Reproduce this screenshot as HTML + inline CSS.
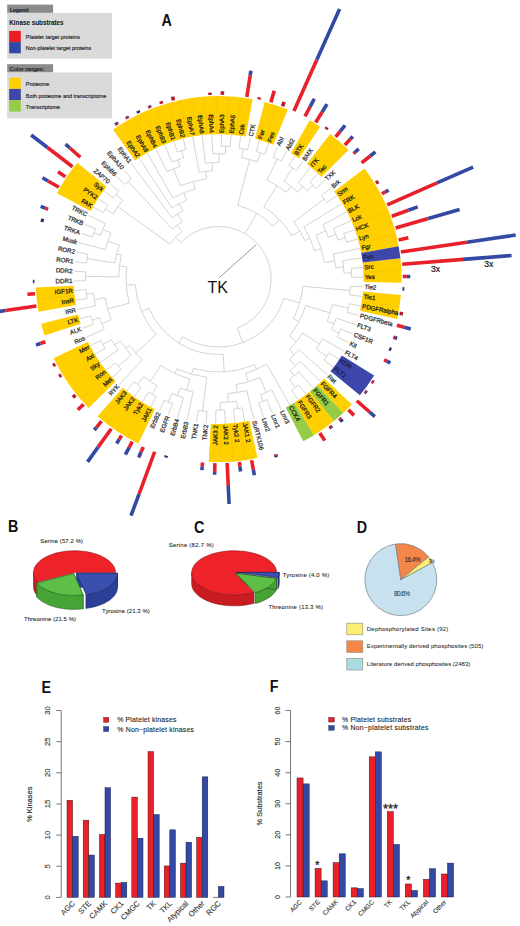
<!DOCTYPE html>
<html><head><meta charset="utf-8"><title>Kinase figure</title>
<style>html,body{margin:0;padding:0;background:#fff;font-family:'Liberation Sans',sans-serif;} body{width:520px;height:926px;overflow:hidden;} svg{display:block;}</style>
</head><body>
<svg width="520" height="926" viewBox="0 0 520 926">
<rect width="520" height="926" fill="#fff"/>
<rect x="7.2" y="4.6" width="45.9" height="8.3" fill="#8b8b8b"/>
<text x="9.8" y="11.6" font-size="5.8" font-weight="bold" fill="#1e1e1e" textLength="19.6" font-family="'Liberation Sans', sans-serif">Legend:</text>
<rect x="7.2" y="12.9" width="104.8" height="45.8" fill="#dadada"/>
<text x="9.3" y="25.4" font-size="6.4" font-weight="bold" fill="#111" textLength="54.3" font-family="'Liberation Sans', sans-serif">Kinase substrates</text>
<rect x="9.2" y="30.9" width="11.6" height="11.2" fill="#ec1c24"/>
<rect x="9.2" y="42.1" width="11.6" height="11.2" fill="#2f4aa6"/>
<text x="25.8" y="39.2" font-size="5.4" fill="#222" stroke="#222" stroke-width="0.15" textLength="54.2" font-family="'Liberation Sans', sans-serif">Platelet target proteins</text>
<text x="25.8" y="50.4" font-size="5.4" fill="#222" stroke="#222" stroke-width="0.15" textLength="65.4" font-family="'Liberation Sans', sans-serif">Non-platelet target proteins</text>
<rect x="7.2" y="64.2" width="45.9" height="8.3" fill="#8b8b8b"/>
<text x="9.5" y="71.1" font-size="5.8" font-weight="bold" fill="#1e1e1e" textLength="35" font-family="'Liberation Sans', sans-serif">Color ranges:</text>
<rect x="7.2" y="72.5" width="104.8" height="45.8" fill="#dadada"/>
<rect x="9.2" y="77.7" width="11.6" height="11.2" fill="#ffcf00"/>
<rect x="9.2" y="88.9" width="11.6" height="11.2" fill="#3d47a9"/>
<rect x="9.2" y="100.1" width="11.6" height="11.5" fill="#95cc45"/>
<text x="25.8" y="86.3" font-size="5.4" fill="#222" stroke="#222" stroke-width="0.15" font-family="'Liberation Sans', sans-serif">Proteome</text>
<text x="25.8" y="97.6" font-size="5.4" fill="#222" stroke="#222" stroke-width="0.15" textLength="80.5" font-family="'Liberation Sans', sans-serif">Both proteome and transcriptome</text>
<text x="25.8" y="109.3" font-size="5.4" fill="#222" stroke="#222" stroke-width="0.15" font-family="'Liberation Sans', sans-serif">Transcriptome</text>
<text x="161.6" y="25.7" font-size="16.3" font-weight="bold" fill="#111" textLength="10.36" lengthAdjust="spacingAndGlyphs" font-family="'Liberation Sans', sans-serif">A</text>
<path d="M103.28,212.73L92.88,206.76M107.97,205.18L97.99,198.52M103.28,212.73A133,133 0 0 1 107.97,205.18M113.21,213.66L105.56,208.92M113.14,197.96L103.63,190.64M118.79,191.09L109.79,183.16M113.14,197.96A133,133 0 0 1 118.79,191.09M122.86,200.20L115.91,194.48M113.21,213.66A124,124 0 0 1 122.86,200.20M169.83,244.05L117.81,206.77M124.89,184.62L116.43,176.11M131.40,178.57L123.53,169.51M124.89,184.62A133,133 0 0 1 131.40,178.57M172.33,229.17L128.09,181.54M172.11,217.62L131.06,163.41M171.92,207.96L138.97,157.82M172.84,198.04L147.25,152.77M167.09,171.73L155.84,148.29M171.77,162.03L164.71,144.39M177.37,152.03L173.82,141.09M185.94,149.56L183.13,138.41M177.37,152.03A133.5,133.5 0 0 1 185.94,149.56M183.71,157.93L181.64,150.72M171.77,162.03A126,126 0 0 1 183.71,157.93M179.96,166.45L177.69,159.83M167.09,171.73A119,119 0 0 1 179.96,166.45M180.35,185.74L173.45,168.90M199.15,172.26L192.60,136.35M205.41,163.25L202.19,134.93M212.76,153.84L211.85,134.16M221.29,146.03L221.54,134.03M230.17,146.50L231.21,134.55M221.29,146.03A133,133 0 0 1 230.17,146.50M225.32,153.88L225.73,146.19M212.76,153.84A125.3,125.3 0 0 1 225.32,153.88M219.01,162.50L219.04,153.70M205.41,163.25A116.5,116.5 0 0 1 219.01,162.50M212.64,170.66L212.20,162.68M199.15,172.26A108.5,108.5 0 0 1 212.64,170.66M206.77,178.90L205.87,171.25M180.35,185.74A100.8,100.8 0 0 1 206.77,178.90M195.29,188.97L193.33,181.42M172.84,198.04A93,93 0 0 1 195.29,188.97M186.76,200.19L183.76,192.77M171.92,207.96A85,85 0 0 1 186.76,200.19M182.86,210.80L179.15,203.71M172.11,217.62A77,77 0 0 1 182.86,210.80M182.17,221.58L177.35,213.98M172.33,229.17A68,68 0 0 1 182.17,221.58M181.96,231.49L177.07,225.15M169.83,244.05A60,60 0 0 1 181.96,231.49M180.83,242.53L175.44,237.32M238.92,148.07L240.83,135.71M247.62,149.72L250.35,137.52M238.92,148.07A132.5,132.5 0 0 1 247.62,149.72M241.60,157.66L243.28,148.82M256.33,151.46L259.73,139.96M264.76,154.27L268.93,143.01M256.33,151.46A133,133 0 0 1 264.76,154.27M257.57,161.81L260.57,152.80M241.60,157.66A123.5,123.5 0 0 1 257.57,161.81M237.71,205.44L249.66,159.47M273.19,157.17L277.90,146.68M281.21,161.09L286.60,150.94M273.19,157.17A133.5,133.5 0 0 1 281.21,161.09M266.91,180.18L277.23,159.07M288.95,165.54L295.00,155.76M296.37,170.49L303.07,161.14M288.95,165.54A133.5,133.5 0 0 1 296.37,170.49M283.82,181.26L292.70,167.95M298.04,182.49L310.75,167.05M309.79,182.19L318.02,173.45M316.06,188.49L324.85,180.33M309.79,182.19A133,133 0 0 1 316.06,188.49M307.30,190.92L312.98,185.29M298.04,182.49A125,125 0 0 1 307.30,190.92M297.72,192.14L302.78,186.59M283.82,181.26A117.5,117.5 0 0 1 297.72,192.14M286.36,192.34L290.98,186.44M266.91,180.18A110,110 0 0 1 286.36,192.34M263.69,206.95L276.95,185.75M321.50,195.52L331.20,187.64M326.84,202.58L337.05,195.37M321.50,195.52A132.5,132.5 0 0 1 326.84,202.58M293.93,221.95L324.23,199.01M303.96,226.91L342.37,203.47M322.76,224.63L347.14,211.90M333.49,228.49L351.34,220.64M343.66,233.72L354.94,229.64M346.40,242.18L357.93,238.85M343.66,233.72A133,133 0 0 1 346.40,242.18M337.97,240.24L345.10,237.93M333.49,228.49A125.5,125.5 0 0 1 337.97,240.24M328.40,237.16L335.87,234.31M322.76,224.63A117.5,117.5 0 0 1 328.40,237.16M316.19,235.12L325.76,230.81M333.43,254.08L360.30,248.25M342.75,260.64L362.04,257.78M351.17,268.37L363.14,267.41M351.59,277.25L363.59,277.09M351.17,268.37A133,133 0 0 1 351.59,277.25M343.96,273.15L351.46,272.80M342.75,260.64A125.5,125.5 0 0 1 343.96,273.15M335.55,267.65L343.51,266.88M333.43,254.08A117.5,117.5 0 0 1 335.55,267.65M324.31,262.46L334.69,260.84M316.19,235.12A107,107 0 0 1 324.31,262.46M314.46,250.51L321.17,248.52M303.96,226.91A100,100 0 0 1 314.46,250.51M304.95,240.60L309.97,238.37M293.93,221.95A94.5,94.5 0 0 1 304.95,240.60M291.80,235.79L299.98,230.96M263.69,206.95A85,85 0 0 1 291.80,235.79M273.03,225.96L279.48,219.68M237.71,205.44A76,76 0 0 1 273.03,225.96M244.97,233.60L256.78,213.28M350.41,286.08L363.39,286.78M349.64,294.87L362.55,296.43M350.41,286.08A132,132 0 0 1 349.64,294.87M302.78,286.35L350.10,290.48M349.27,303.77L361.06,306.01M347.33,312.44L358.94,315.46M349.27,303.77A133,133 0 0 1 347.33,312.44M332.27,304.51L348.37,308.12M336.26,318.13L356.19,324.75M340.79,328.93L352.83,333.84M337.19,336.98L348.87,342.69M340.79,328.93A132,132 0 0 1 337.19,336.98M331.76,329.71L339.06,332.98M336.26,318.13A124,124 0 0 1 331.76,329.71M327.17,321.26L334.16,323.98M332.27,304.51A116.5,116.5 0 0 1 327.17,321.26M305.64,305.54L330.03,312.98M322.64,338.79L344.32,351.24M329.23,352.82L339.21,359.48M324.06,360.04L333.57,367.36M329.23,352.82A133,133 0 0 1 324.06,360.04M316.14,348.90L326.70,356.48M322.64,338.79A120,120 0 0 1 316.14,348.90M302.70,333.11L319.52,343.93M298.90,349.72L327.41,374.84M300.33,361.31L320.77,381.89M299.05,371.65L313.67,388.49M298.90,385.03L306.14,394.59M291.64,390.15L298.23,400.18M298.90,385.03A133,133 0 0 1 291.64,390.15M289.37,379.24L295.31,387.65M299.05,371.65A122.7,122.7 0 0 1 289.37,379.24M290.17,370.29L294.30,375.56M300.33,361.31A116,116 0 0 1 290.17,370.29M289.43,359.20L295.38,365.95M298.90,349.72A107,107 0 0 1 289.43,359.20M289.36,349.67L294.31,354.61M302.70,333.11A100,100 0 0 1 289.36,349.67M289.46,336.09L296.47,341.74M305.64,305.54A91,91 0 0 1 289.46,336.09M293.27,318.55L299.02,321.59M302.78,286.35A84.5,84.5 0 0 1 293.27,318.55M283.82,298.26L299.64,302.93M266.83,364.31L289.95,405.23M271.84,389.88L281.36,409.71M266.92,399.69L272.49,413.61M258.75,402.65L263.38,416.91M266.92,399.69A130,130 0 0 1 258.75,402.65M260.47,394.65L262.86,401.23M271.84,389.88A123,123 0 0 1 260.47,394.65M260.02,377.66L266.22,392.41M246.73,390.51L254.07,419.59M242.09,407.88L244.60,421.65M233.43,409.16L235.01,423.07M242.09,407.88A131,131 0 0 1 233.43,409.16M236.67,401.17L237.77,408.59M224.70,409.86L225.35,423.84M215.95,409.97L215.66,423.97M224.70,409.86A131,131 0 0 1 215.95,409.97M220.23,402.49L220.33,409.99M236.67,401.17A123.5,123.5 0 0 1 220.23,402.49M227.79,393.63L228.47,402.10M246.73,390.51A115,115 0 0 1 227.79,393.63M236.02,384.57L237.33,392.46M260.02,377.66A107,107 0 0 1 236.02,384.57M245.73,373.17L248.23,381.82M266.83,364.31A98,98 0 0 1 245.73,373.17M254.60,364.75L256.54,369.36M207.03,411.50L205.99,423.45M198.21,410.43L196.37,422.29M207.03,411.50A133,133 0 0 1 198.21,410.43M206.70,377.28L202.61,411.04M193.26,391.89L186.85,420.48M183.51,397.62L177.47,418.04M172.44,403.73L168.27,414.99M164.21,400.37L159.30,411.32M172.44,403.73A133,133 0 0 1 164.21,400.37M171.81,393.51L168.30,402.12M183.51,397.62A123.7,123.7 0 0 1 171.81,393.51M180.26,388.16L177.61,395.71M193.26,391.89A115.7,115.7 0 0 1 180.26,388.16M189.93,378.97L186.71,390.22M156.22,396.47L150.60,407.06M148.52,392.04L142.20,402.24M156.22,396.47A133,133 0 0 1 148.52,392.04M157.32,385.65L152.33,394.32M141.12,387.10L134.13,396.86M134.08,381.69L126.45,390.95M141.12,387.10A133,133 0 0 1 134.08,381.69M143.65,376.53L137.56,384.46M157.32,385.65A123,123 0 0 1 143.65,376.53M160.88,365.51L150.33,381.31M189.93,378.97A104,104 0 0 1 160.88,365.51M176.99,368.83L174.88,373.37M206.70,377.28A99,99 0 0 1 176.99,368.83M193.15,368.45L191.51,374.22M254.60,364.75A93,93 0 0 1 193.15,368.45M223.14,354.36L224.19,371.83M142.49,359.80L119.18,384.55M121.14,369.51L112.35,377.67M115.32,362.79L106.00,370.36M121.14,369.51A133,133 0 0 1 115.32,362.79M131.01,355.05L118.17,366.20M118.12,349.94L100.15,362.63M105.07,348.28L94.83,354.53M100.70,340.54L90.06,346.10M105.07,348.28A133,133 0 0 1 100.70,340.54M111.52,339.53L102.82,344.45M118.12,349.94A123,123 0 0 1 111.52,339.53M120.60,341.07L114.69,344.82M131.01,355.05A116,116 0 0 1 120.60,341.07M129.56,345.27L125.54,348.26M142.49,359.80A111,111 0 0 1 129.56,345.27M156.24,334.53L135.70,352.82M104.17,329.31L85.86,337.36M93.54,324.28L82.26,328.36M90.80,315.82L79.27,319.15M93.54,324.28A133,133 0 0 1 90.80,315.82M99.71,317.60L92.10,320.07M104.17,329.31A125,125 0 0 1 99.71,317.60M111.14,319.95L101.79,323.51M95.47,305.72L76.90,309.75M87.03,298.46L75.16,300.22M86.03,289.63L74.06,290.59M87.03,298.46A133,133 0 0 1 86.03,289.63M93.41,293.26L86.45,294.06M95.47,305.72A126,126 0 0 1 93.41,293.26M105.14,297.73L94.28,299.52M111.14,319.95A115,115 0 0 1 105.14,297.73M129.30,303.12L107.58,308.99M85.61,280.75L73.61,280.91M85.79,271.87L73.81,271.22M85.61,280.75A133,133 0 0 1 85.79,271.87M118.62,276.98L85.63,276.31M86.56,263.01L74.65,261.57M87.93,254.23L76.14,251.99M86.56,263.01A133,133 0 0 1 87.93,254.23M114.84,262.90L87.17,258.61M105.36,249.58L78.26,242.54M92.40,237.03L81.01,233.25M95.48,228.70L84.37,224.16M92.40,237.03A133,133 0 0 1 95.48,228.70M100.43,235.27L93.87,232.84M105.40,223.66L88.33,215.31M100.43,235.27A126,126 0 0 1 105.40,223.66M111.05,232.94L102.77,229.40M105.36,249.58A117,117 0 0 1 111.05,232.94M119.24,245.04L107.89,241.15M114.84,262.90A105,105 0 0 1 119.24,245.04M121.51,255.07L116.65,253.87M118.62,276.98A100,100 0 0 1 121.51,255.07M126.89,266.92L119.46,265.94M129.30,303.12A92.5,92.5 0 0 1 126.89,266.92M135.28,284.54L126.30,285.14M156.24,334.53A83.5,83.5 0 0 1 135.28,284.54M148.97,308.19L141.59,311.29M223.14,354.36A75.5,75.5 0 0 1 148.97,308.19M182.66,336.73L178.70,343.10M283.82,298.26A68,68 0 0 1 182.66,336.73M237.26,328.07L242.77,342.56M180.83,242.53A52.5,52.5 0 1 1 237.26,328.07" fill="none" stroke="#cfd0c6" stroke-width="0.9"/>
<g><path d="M134.97,160.55 L113.05,129.50 A183.0,183.0 0 0 1 252.69,99.20 L245.61,136.54 A145.0,145.0 0 0 0 134.97,160.55Z" fill="#ffcf00"/><path d="M255.06,138.66 L264.62,101.88 A183.0,183.0 0 0 1 287.82,109.59 L273.44,144.77 A145.0,145.0 0 0 0 255.06,138.66Z" fill="#ffcf00"/><path d="M290.84,153.28 L309.78,120.33 A183.0,183.0 0 0 1 320.17,126.78 L299.08,158.39 A145.0,145.0 0 0 0 290.84,153.28Z" fill="#ffcf00"/><path d="M306.96,164.03 L330.11,133.90 A183.0,183.0 0 0 1 348.46,150.06 L321.49,176.83 A145.0,145.0 0 0 0 306.96,164.03Z" fill="#ffcf00"/><path d="M334.19,191.46 L364.48,168.52 A183.0,183.0 0 0 1 398.63,246.19 L361.25,253.00 A145.0,145.0 0 0 0 334.19,191.46Z" fill="#ffcf00"/><path d="M362.67,262.59 L400.42,258.29 A183.0,183.0 0 0 1 401.56,282.70 L363.57,281.94 A145.0,145.0 0 0 0 362.67,262.59Z" fill="#ffcf00"/><path d="M363.05,291.61 L400.91,294.92 A183.0,183.0 0 0 1 397.16,319.07 L360.08,310.75 A145.0,145.0 0 0 0 363.05,291.61Z" fill="#ffcf00"/><path d="M324.15,378.42 L351.81,404.48 A183.0,183.0 0 0 1 343.13,413.09 L317.27,385.25 A145.0,145.0 0 0 0 324.15,378.42Z" fill="#ffcf00"/><path d="M309.96,391.60 L333.90,421.11 A183.0,183.0 0 0 1 313.93,435.21 L294.13,402.77 A145.0,145.0 0 0 0 309.96,391.60Z" fill="#ffcf00"/><path d="M249.35,420.70 L257.41,457.84 A183.0,183.0 0 0 1 208.78,461.74 L210.82,423.79 A145.0,145.0 0 0 0 249.35,420.70Z" fill="#ffcf00"/><path d="M154.91,409.27 L138.22,443.40 A183.0,183.0 0 0 1 97.65,416.33 L122.76,387.81 A145.0,145.0 0 0 0 154.91,409.27Z" fill="#ffcf00"/><path d="M115.71,381.17 L88.74,407.94 A183.0,183.0 0 0 1 53.63,358.21 L87.89,341.76 A145.0,145.0 0 0 0 115.71,381.17Z" fill="#ffcf00"/><path d="M80.69,323.78 L44.55,335.52 A183.0,183.0 0 0 1 41.16,323.76 L78.01,314.47 A145.0,145.0 0 0 0 80.69,323.78Z" fill="#ffcf00"/><path d="M75.95,305.00 L38.57,311.81 A183.0,183.0 0 0 1 35.80,287.52 L73.76,285.75 A145.0,145.0 0 0 0 75.95,305.00Z" fill="#ffcf00"/><path d="M90.54,211.00 L56.97,193.18 A183.0,183.0 0 0 1 77.31,162.70 L106.65,186.85 A145.0,145.0 0 0 0 90.54,211.00Z" fill="#ffcf00"/><path d="M361.25,253.00 L398.63,246.19 A183.0,183.0 0 0 1 400.42,258.29 L362.67,262.59 A145.0,145.0 0 0 0 361.25,253.00Z" fill="#3d47a9"/><path d="M341.84,355.40 L374.13,375.43 A183.0,183.0 0 0 1 359.89,395.30 L330.55,371.15 A145.0,145.0 0 0 0 341.84,355.40Z" fill="#3d47a9"/><path d="M317.27,385.25 L343.13,413.09 A183.0,183.0 0 0 1 333.90,421.11 L309.96,391.60 A145.0,145.0 0 0 0 317.27,385.25Z" fill="#95cc45"/><path d="M294.13,402.77 L313.93,435.21 A183.0,183.0 0 0 1 303.28,441.23 L285.70,407.54 A145.0,145.0 0 0 0 294.13,402.77Z" fill="#95cc45"/></g>
<path d="M143.07,155.23L123.27,122.79M151.50,150.46L133.92,116.77M160.24,146.26L144.95,111.48M169.24,142.66L156.30,106.93M178.45,139.67L167.93,103.15M187.85,137.30L179.79,100.16M197.38,135.56L191.82,97.97M207.01,134.46L203.97,96.59M216.69,134.01L216.19,96.02M226.38,134.21L228.42,96.26M236.03,135.05L240.60,97.33M264.35,141.41L276.35,105.35M314.44,170.19L339.55,141.67M339.78,199.37L371.54,178.51M344.83,207.65L377.91,188.95M349.31,216.24L383.57,199.79M353.21,225.11L388.49,210.98M356.51,234.22L392.65,222.48M359.19,243.53L396.04,234.24M363.44,272.25L401.40,270.48M361.89,301.23L399.44,307.06M302.23,397.45L324.15,428.50M239.82,422.44L245.38,460.03M230.19,423.54L233.23,461.41M220.51,423.99L221.01,461.98M146.36,404.72L127.42,437.67M138.12,399.61L117.03,431.22M130.24,393.97L107.09,424.10M109.11,374.07L80.42,398.98M103.01,366.54L72.72,389.48M97.42,358.63L65.66,379.49M92.37,350.35L59.29,369.05M74.53,295.41L36.78,299.71M95.36,202.60L63.07,182.57M100.74,194.53L69.85,172.40" stroke="#e9b800" stroke-width="0.5" stroke-opacity="0.7" fill="none"/>
<g><line x1="117.45" y1="125.06" x2="116.59" y2="123.75" stroke="#b81d38" stroke-width="3.6"/><line x1="116.59" y1="123.75" x2="115.73" y2="122.45" stroke="#2c3576" stroke-width="3.6"/><line x1="127.96" y1="118.65" x2="127.19" y2="117.29" stroke="#b81d38" stroke-width="3.6"/><line x1="127.19" y1="117.29" x2="126.61" y2="116.27" stroke="#2c3576" stroke-width="3.6"/><line x1="138.87" y1="112.95" x2="137.86" y2="110.84" stroke="#2c3576" stroke-width="3.6"/><line x1="150.14" y1="108.00" x2="149.41" y2="106.18" stroke="#b81d38" stroke-width="3.6"/><line x1="149.41" y1="106.18" x2="149.12" y2="105.46" stroke="#2c3576" stroke-width="3.6"/><line x1="161.71" y1="103.80" x2="160.87" y2="101.21" stroke="#b81d38" stroke-width="3.6"/><line x1="173.54" y1="100.40" x2="172.59" y2="96.61" stroke="#b81d38" stroke-width="3.6"/><line x1="210.02" y1="95.00" x2="209.91" y2="92.66" stroke="#b81d38" stroke-width="3.6"/><line x1="222.33" y1="94.84" x2="222.40" y2="91.33" stroke="#b81d38" stroke-width="3.6"/><line x1="246.84" y1="96.98" x2="250.22" y2="75.24" stroke="#e8202a" stroke-width="3.6"/><line x1="250.22" y1="75.24" x2="250.91" y2="70.79" stroke="#3349a3" stroke-width="3.6"/><line x1="258.94" y1="99.27" x2="259.36" y2="97.37" stroke="#b81d38" stroke-width="3.6"/><line x1="270.85" y1="102.37" x2="274.26" y2="90.86" stroke="#e8202a" stroke-width="3.6"/><line x1="282.53" y1="106.25" x2="284.16" y2="101.86" stroke="#b81d38" stroke-width="3.6"/><line x1="293.93" y1="110.91" x2="316.83" y2="59.80" stroke="#e8202a" stroke-width="3.6"/><line x1="316.83" y1="59.80" x2="339.57" y2="9.07" stroke="#3349a3" stroke-width="3.6"/><line x1="304.99" y1="116.31" x2="310.01" y2="106.86" stroke="#e8202a" stroke-width="3.6"/><line x1="310.01" y1="106.86" x2="314.32" y2="98.74" stroke="#3349a3" stroke-width="3.6"/><line x1="315.66" y1="122.45" x2="321.98" y2="112.25" stroke="#e8202a" stroke-width="3.6"/><line x1="321.98" y1="112.25" x2="326.99" y2="104.17" stroke="#3349a3" stroke-width="3.6"/><line x1="325.90" y1="129.28" x2="327.26" y2="127.38" stroke="#b81d38" stroke-width="3.6"/><line x1="335.66" y1="136.78" x2="340.11" y2="131.38" stroke="#e8202a" stroke-width="3.6"/><line x1="340.11" y1="131.38" x2="345.07" y2="125.35" stroke="#3349a3" stroke-width="3.6"/><line x1="344.90" y1="144.92" x2="350.38" y2="139.09" stroke="#e8202a" stroke-width="3.6"/><line x1="350.38" y1="139.09" x2="352.78" y2="136.55" stroke="#3349a3" stroke-width="3.6"/><line x1="353.57" y1="153.65" x2="355.04" y2="152.29" stroke="#e8202a" stroke-width="3.6"/><line x1="355.04" y1="152.29" x2="358.70" y2="148.89" stroke="#3349a3" stroke-width="3.6"/><line x1="361.64" y1="162.95" x2="370.19" y2="156.02" stroke="#e8202a" stroke-width="3.6"/><line x1="370.19" y1="156.02" x2="375.39" y2="151.80" stroke="#3349a3" stroke-width="3.6"/><line x1="375.84" y1="183.05" x2="378.50" y2="181.42" stroke="#b81d38" stroke-width="3.6"/><line x1="381.89" y1="193.77" x2="385.44" y2="191.91" stroke="#e8202a" stroke-width="3.6"/><line x1="385.44" y1="191.91" x2="388.63" y2="190.25" stroke="#3349a3" stroke-width="3.6"/><line x1="387.22" y1="204.86" x2="437.02" y2="182.97" stroke="#e8202a" stroke-width="3.6"/><line x1="437.02" y1="182.97" x2="473.09" y2="167.11" stroke="#3349a3" stroke-width="3.6"/><line x1="391.80" y1="216.29" x2="408.35" y2="210.30" stroke="#e8202a" stroke-width="3.6"/><line x1="408.35" y1="210.30" x2="417.75" y2="206.89" stroke="#3349a3" stroke-width="3.6"/><line x1="395.60" y1="228.00" x2="428.27" y2="218.58" stroke="#e8202a" stroke-width="3.6"/><line x1="428.27" y1="218.58" x2="459.59" y2="209.56" stroke="#3349a3" stroke-width="3.6"/><line x1="398.61" y1="239.93" x2="408.38" y2="237.81" stroke="#e8202a" stroke-width="3.6"/><line x1="400.82" y1="252.05" x2="466.80" y2="242.29" stroke="#e8202a" stroke-width="3.6"/><line x1="466.80" y1="242.29" x2="515.67" y2="235.06" stroke="#3349a3" stroke-width="3.6"/><line x1="402.21" y1="264.28" x2="463.02" y2="259.40" stroke="#e8202a" stroke-width="3.6"/><line x1="463.02" y1="259.40" x2="511.56" y2="255.51" stroke="#3349a3" stroke-width="3.6"/><line x1="402.78" y1="276.57" x2="406.78" y2="276.52" stroke="#e8202a" stroke-width="3.6"/><line x1="406.78" y1="276.52" x2="410.28" y2="276.47" stroke="#3349a3" stroke-width="3.6"/><line x1="402.53" y1="288.88" x2="404.33" y2="288.98" stroke="#2c3576" stroke-width="3.6"/><line x1="399.58" y1="313.31" x2="403.03" y2="313.96" stroke="#b81d38" stroke-width="3.6"/><line x1="396.88" y1="325.32" x2="404.33" y2="327.26" stroke="#e8202a" stroke-width="3.6"/><line x1="404.33" y1="327.26" x2="410.72" y2="328.92" stroke="#3349a3" stroke-width="3.6"/><line x1="393.39" y1="337.12" x2="395.24" y2="337.74" stroke="#b81d38" stroke-width="3.6"/><line x1="395.24" y1="337.74" x2="397.09" y2="338.36" stroke="#2c3576" stroke-width="3.6"/><line x1="389.12" y1="348.67" x2="391.28" y2="349.55" stroke="#2c3576" stroke-width="3.6"/><line x1="384.08" y1="359.90" x2="386.78" y2="361.22" stroke="#e8202a" stroke-width="3.6"/><line x1="386.78" y1="361.22" x2="390.37" y2="362.98" stroke="#3349a3" stroke-width="3.6"/><line x1="371.82" y1="381.24" x2="373.77" y2="382.54" stroke="#b81d38" stroke-width="3.6"/><line x1="364.65" y1="391.24" x2="365.89" y2="392.19" stroke="#b81d38" stroke-width="3.6"/><line x1="365.89" y1="392.19" x2="366.82" y2="392.91" stroke="#2c3576" stroke-width="3.6"/><line x1="356.83" y1="400.75" x2="369.59" y2="411.98" stroke="#e8202a" stroke-width="3.6"/><line x1="369.59" y1="411.98" x2="374.84" y2="416.61" stroke="#3349a3" stroke-width="3.6"/><line x1="348.39" y1="409.71" x2="354.02" y2="415.39" stroke="#e8202a" stroke-width="3.6"/><line x1="339.37" y1="418.09" x2="340.65" y2="419.56" stroke="#b81d38" stroke-width="3.6"/><line x1="340.65" y1="419.56" x2="342.44" y2="421.62" stroke="#2c3576" stroke-width="3.6"/><line x1="329.81" y1="425.84" x2="331.22" y2="427.71" stroke="#b81d38" stroke-width="3.6"/><line x1="331.22" y1="427.71" x2="331.69" y2="428.33" stroke="#2c3576" stroke-width="3.6"/><line x1="319.75" y1="432.94" x2="324.80" y2="440.63" stroke="#e8202a" stroke-width="3.6"/><line x1="275.49" y1="454.20" x2="275.97" y2="455.68" stroke="#b81d38" stroke-width="3.6"/><line x1="275.97" y1="455.68" x2="276.45" y2="457.16" stroke="#2c3576" stroke-width="3.6"/><line x1="251.63" y1="460.21" x2="253.39" y2="469.86" stroke="#e8202a" stroke-width="3.6"/><line x1="253.39" y1="469.86" x2="254.37" y2="475.27" stroke="#3349a3" stroke-width="3.6"/><line x1="239.45" y1="462.02" x2="239.98" y2="466.69" stroke="#e8202a" stroke-width="3.6"/><line x1="239.98" y1="466.69" x2="240.54" y2="471.55" stroke="#3349a3" stroke-width="3.6"/><line x1="227.18" y1="463.00" x2="228.25" y2="485.98" stroke="#e8202a" stroke-width="3.6"/><line x1="228.25" y1="485.98" x2="229.09" y2="503.96" stroke="#3349a3" stroke-width="3.6"/><line x1="214.87" y1="463.16" x2="214.69" y2="471.86" stroke="#e8202a" stroke-width="3.6"/><line x1="214.69" y1="471.86" x2="214.64" y2="474.76" stroke="#3349a3" stroke-width="3.6"/><line x1="202.58" y1="462.50" x2="202.25" y2="466.29" stroke="#e8202a" stroke-width="3.6"/><line x1="202.25" y1="466.29" x2="201.91" y2="470.17" stroke="#3349a3" stroke-width="3.6"/><line x1="166.35" y1="455.63" x2="165.80" y2="457.50" stroke="#2c3576" stroke-width="3.6"/><line x1="154.67" y1="451.75" x2="139.12" y2="493.76" stroke="#e8202a" stroke-width="3.6"/><line x1="139.12" y1="493.76" x2="131.03" y2="515.62" stroke="#3349a3" stroke-width="3.6"/><line x1="143.27" y1="447.09" x2="141.06" y2="452.02" stroke="#e8202a" stroke-width="3.6"/><line x1="141.06" y1="452.02" x2="138.65" y2="457.41" stroke="#3349a3" stroke-width="3.6"/><line x1="132.21" y1="441.69" x2="129.21" y2="447.34" stroke="#e8202a" stroke-width="3.6"/><line x1="129.21" y1="447.34" x2="125.37" y2="454.58" stroke="#3349a3" stroke-width="3.6"/><line x1="121.54" y1="435.55" x2="119.12" y2="439.46" stroke="#e8202a" stroke-width="3.6"/><line x1="119.12" y1="439.46" x2="116.64" y2="443.46" stroke="#3349a3" stroke-width="3.6"/><line x1="111.30" y1="428.72" x2="98.08" y2="447.17" stroke="#e8202a" stroke-width="3.6"/><line x1="98.08" y1="447.17" x2="87.53" y2="461.88" stroke="#3349a3" stroke-width="3.6"/><line x1="101.54" y1="421.22" x2="96.52" y2="427.32" stroke="#e8202a" stroke-width="3.6"/><line x1="96.52" y1="427.32" x2="94.29" y2="430.02" stroke="#3349a3" stroke-width="3.6"/><line x1="83.63" y1="404.35" x2="77.77" y2="409.79" stroke="#e8202a" stroke-width="3.6"/><line x1="75.56" y1="395.05" x2="72.77" y2="397.31" stroke="#b81d38" stroke-width="3.6"/><line x1="61.36" y1="374.95" x2="59.03" y2="376.37" stroke="#b81d38" stroke-width="3.6"/><line x1="55.31" y1="364.23" x2="52.89" y2="365.50" stroke="#b81d38" stroke-width="3.6"/><line x1="45.40" y1="341.71" x2="40.42" y2="343.51" stroke="#e8202a" stroke-width="3.6"/><line x1="40.42" y1="343.51" x2="36.00" y2="345.11" stroke="#3349a3" stroke-width="3.6"/><line x1="36.38" y1="305.95" x2="5.32" y2="310.55" stroke="#e8202a" stroke-width="3.6"/><line x1="5.32" y1="310.55" x2="-6.55" y2="312.31" stroke="#3349a3" stroke-width="3.6"/><line x1="34.99" y1="293.72" x2="27.41" y2="294.33" stroke="#e8202a" stroke-width="3.6"/><line x1="34.42" y1="281.43" x2="32.86" y2="281.45" stroke="#2c3576" stroke-width="3.6"/><line x1="43.81" y1="220.88" x2="40.85" y2="219.89" stroke="#2c3576" stroke-width="3.6"/><line x1="48.08" y1="209.33" x2="45.31" y2="208.20" stroke="#e8202a" stroke-width="3.6"/><line x1="45.31" y1="208.20" x2="40.68" y2="206.30" stroke="#3349a3" stroke-width="3.6"/><line x1="58.89" y1="187.22" x2="48.05" y2="181.00" stroke="#e8202a" stroke-width="3.6"/><line x1="48.05" y1="181.00" x2="42.50" y2="177.81" stroke="#3349a3" stroke-width="3.6"/><line x1="65.38" y1="176.76" x2="57.97" y2="171.82" stroke="#e8202a" stroke-width="3.6"/><line x1="72.55" y1="166.76" x2="47.49" y2="147.50" stroke="#e8202a" stroke-width="3.6"/><line x1="47.49" y1="147.50" x2="31.16" y2="134.95" stroke="#3349a3" stroke-width="3.6"/><line x1="80.37" y1="157.25" x2="69.87" y2="148.00" stroke="#e8202a" stroke-width="3.6"/><line x1="69.87" y1="148.00" x2="65.51" y2="144.17" stroke="#3349a3" stroke-width="3.6"/></g>
<g font-size="6.2" font-family="'Liberation Sans', sans-serif" stroke-width="0.26" paint-order="fill"><text x="138.32" y="156.82" transform="rotate(56.69 138.32 156.82)" dy="2.1" text-anchor="end" fill="#1a1a1a" stroke="#1a1a1a">EphA2</text><text x="146.66" y="151.73" transform="rotate(60.52 146.66 151.73)" dy="2.1" text-anchor="end" fill="#1a1a1a" stroke="#1a1a1a">EphA8</text><text x="155.32" y="147.21" transform="rotate(64.35 155.32 147.21)" dy="2.1" text-anchor="end" fill="#1a1a1a" stroke="#1a1a1a">EphB4</text><text x="164.26" y="143.27" transform="rotate(68.18 164.26 143.27)" dy="2.1" text-anchor="end" fill="#1a1a1a" stroke="#1a1a1a">EphB3</text><text x="173.45" y="139.95" transform="rotate(72.01 173.45 139.95)" dy="2.1" text-anchor="end" fill="#1a1a1a" stroke="#1a1a1a">EphB1</text><text x="182.84" y="137.24" transform="rotate(75.84 182.84 137.24)" dy="2.1" text-anchor="end" fill="#1a1a1a" stroke="#1a1a1a">EphB2</text><text x="192.39" y="135.17" transform="rotate(79.67 192.39 135.17)" dy="2.1" text-anchor="end" fill="#1a1a1a" stroke="#1a1a1a">EphA7</text><text x="202.05" y="133.74" transform="rotate(83.50 202.05 133.74)" dy="2.1" text-anchor="end" fill="#1a1a1a" stroke="#1a1a1a">EphA6</text><text x="211.79" y="132.96" transform="rotate(87.33 211.79 132.96)" dy="2.1" text-anchor="end" fill="#1a1a1a" stroke="#1a1a1a">EphA4</text><text x="221.56" y="132.83" transform="rotate(-88.84 221.56 132.83)" dy="2.1" fill="#1a1a1a" stroke="#1a1a1a">EphA3</text><text x="231.32" y="133.35" transform="rotate(-85.01 231.32 133.35)" dy="2.1" fill="#1a1a1a" stroke="#1a1a1a">EphA5</text><text x="241.02" y="134.53" transform="rotate(-81.18 241.02 134.53)" dy="2.1" fill="#1a1a1a" stroke="#1a1a1a">Csk</text><text x="250.62" y="136.35" transform="rotate(-77.35 250.62 136.35)" dy="2.1" fill="#333" stroke="#333">CTK</text><text x="260.07" y="138.81" transform="rotate(-73.52 260.07 138.81)" dy="2.1" fill="#1a1a1a" stroke="#1a1a1a">Fer</text><text x="269.34" y="141.89" transform="rotate(-69.69 269.34 141.89)" dy="2.1" fill="#1a1a1a" stroke="#1a1a1a">Fes</text><text x="278.39" y="145.58" transform="rotate(-65.86 278.39 145.58)" dy="2.1" fill="#333" stroke="#333">Abl</text><text x="287.17" y="149.88" transform="rotate(-62.03 287.17 149.88)" dy="2.1" fill="#333" stroke="#333">Abl2</text><text x="295.64" y="154.74" transform="rotate(-58.20 295.64 154.74)" dy="2.1" fill="#1a1a1a" stroke="#1a1a1a">BTK</text><text x="303.76" y="160.17" transform="rotate(-54.37 303.76 160.17)" dy="2.1" fill="#333" stroke="#333">BMX</text><text x="311.51" y="166.12" transform="rotate(-50.54 311.51 166.12)" dy="2.1" fill="#1a1a1a" stroke="#1a1a1a">ITK</text><text x="318.84" y="172.58" transform="rotate(-46.71 318.84 172.58)" dy="2.1" fill="#1a1a1a" stroke="#1a1a1a">Tec</text><text x="325.73" y="179.51" transform="rotate(-42.88 325.73 179.51)" dy="2.1" fill="#333" stroke="#333">TXK</text><text x="332.13" y="186.89" transform="rotate(-39.05 332.13 186.89)" dy="2.1" fill="#333" stroke="#333">Brk</text><text x="338.03" y="194.68" transform="rotate(-35.22 338.03 194.68)" dy="2.1" fill="#1a1a1a" stroke="#1a1a1a">Srm</text><text x="343.40" y="202.84" transform="rotate(-31.39 343.40 202.84)" dy="2.1" fill="#1a1a1a" stroke="#1a1a1a">FRK</text><text x="348.21" y="211.35" transform="rotate(-27.56 348.21 211.35)" dy="2.1" fill="#1a1a1a" stroke="#1a1a1a">BLK</text><text x="352.44" y="220.16" transform="rotate(-23.73 352.44 220.16)" dy="2.1" fill="#1a1a1a" stroke="#1a1a1a">Lck</text><text x="356.07" y="229.23" transform="rotate(-19.90 356.07 229.23)" dy="2.1" fill="#1a1a1a" stroke="#1a1a1a">HCK</text><text x="359.08" y="238.52" transform="rotate(-16.07 359.08 238.52)" dy="2.1" fill="#1a1a1a" stroke="#1a1a1a">Lyn</text><text x="361.47" y="247.99" transform="rotate(-12.24 361.47 247.99)" dy="2.1" fill="#1a1a1a" stroke="#1a1a1a">Fgr</text><text x="363.23" y="257.61" transform="rotate(-8.41 363.23 257.61)" dy="2.1" fill="#1b1f4a" stroke="#1b1f4a">Fyn</text><text x="364.33" y="267.31" transform="rotate(-4.58 364.33 267.31)" dy="2.1" fill="#1a1a1a" stroke="#1a1a1a">Src</text><text x="364.79" y="277.07" transform="rotate(-0.75 364.79 277.07)" dy="2.1" fill="#1a1a1a" stroke="#1a1a1a">Yes</text><text x="364.59" y="286.84" transform="rotate(3.07 364.59 286.84)" dy="2.1" fill="#333" stroke="#333">Tie2</text><text x="363.74" y="296.58" transform="rotate(6.90 363.74 296.58)" dy="2.1" fill="#1a1a1a" stroke="#1a1a1a">Tie1</text><text x="362.24" y="306.23" transform="rotate(10.73 362.24 306.23)" dy="2.1" fill="#1a1a1a" stroke="#1a1a1a">PDGFRalpha</text><text x="360.10" y="315.76" transform="rotate(14.56 360.10 315.76)" dy="2.1" fill="#333" stroke="#333">PDGFRbeta</text><text x="357.33" y="325.13" transform="rotate(18.39 357.33 325.13)" dy="2.1" fill="#333" stroke="#333">FLT3</text><text x="353.94" y="334.30" transform="rotate(22.22 353.94 334.30)" dy="2.1" fill="#333" stroke="#333">CSF1R</text><text x="349.94" y="343.21" transform="rotate(26.05 349.94 343.21)" dy="2.1" fill="#333" stroke="#333">Kit</text><text x="345.36" y="351.84" transform="rotate(29.88 345.36 351.84)" dy="2.1" fill="#333" stroke="#333">FLT4</text><text x="340.21" y="360.15" transform="rotate(33.71 340.21 360.15)" dy="2.1" fill="#1b1f4a" stroke="#1b1f4a">KDR</text><text x="334.52" y="368.09" transform="rotate(37.54 334.52 368.09)" dy="2.1" fill="#1b1f4a" stroke="#1b1f4a">FLT1</text><text x="328.31" y="375.63" transform="rotate(41.37 328.31 375.63)" dy="2.1" fill="#333" stroke="#333">Ret</text><text x="321.61" y="382.74" transform="rotate(45.20 321.61 382.74)" dy="2.1" fill="#1a1a1a" stroke="#1a1a1a">FGFR4</text><text x="314.45" y="389.39" transform="rotate(49.03 314.45 389.39)" dy="2.1" fill="#1a1a1a" stroke="#1a1a1a">FGFR1</text><text x="306.87" y="395.55" transform="rotate(52.86 306.87 395.55)" dy="2.1" fill="#1a1a1a" stroke="#1a1a1a">FGFR2</text><text x="298.88" y="401.18" transform="rotate(56.69 298.88 401.18)" dy="2.1" fill="#1a1a1a" stroke="#1a1a1a">FGFR3</text><text x="290.54" y="406.27" transform="rotate(60.52 290.54 406.27)" dy="2.1" fill="#1a1a1a" stroke="#1a1a1a">CCK4</text><text x="281.88" y="410.79" transform="rotate(64.35 281.88 410.79)" dy="2.1" fill="#333" stroke="#333">Lmr3</text><text x="272.94" y="414.73" transform="rotate(68.18 272.94 414.73)" dy="2.1" fill="#333" stroke="#333">Lmr1</text><text x="263.75" y="418.05" transform="rotate(72.01 263.75 418.05)" dy="2.1" fill="#333" stroke="#333">Lmr2</text><text x="254.36" y="420.76" transform="rotate(75.84 254.36 420.76)" dy="2.1" fill="#333" stroke="#333">SuRTK106</text><text x="244.81" y="422.83" transform="rotate(79.67 244.81 422.83)" dy="2.1" fill="#1a1a1a" stroke="#1a1a1a">JAK1 2</text><text x="235.15" y="424.26" transform="rotate(83.50 235.15 424.26)" dy="2.1" fill="#1a1a1a" stroke="#1a1a1a">Tyk2 2</text><text x="225.41" y="425.04" transform="rotate(87.33 225.41 425.04)" dy="2.1" fill="#1a1a1a" stroke="#1a1a1a">JAK2 2</text><text x="215.64" y="425.17" transform="rotate(271.16 215.64 425.17)" dy="2.1" text-anchor="end" fill="#1a1a1a" stroke="#1a1a1a">JAK3 2</text><text x="205.88" y="424.65" transform="rotate(274.99 205.88 424.65)" dy="2.1" text-anchor="end" fill="#333" stroke="#333">TNK2</text><text x="196.18" y="423.47" transform="rotate(278.82 196.18 423.47)" dy="2.1" text-anchor="end" fill="#333" stroke="#333">TNK1</text><text x="186.58" y="421.65" transform="rotate(282.65 186.58 421.65)" dy="2.1" text-anchor="end" fill="#333" stroke="#333">ErbB3</text><text x="177.13" y="419.19" transform="rotate(286.48 177.13 419.19)" dy="2.1" text-anchor="end" fill="#333" stroke="#333">ErbB4</text><text x="167.86" y="416.11" transform="rotate(290.31 167.86 416.11)" dy="2.1" text-anchor="end" fill="#333" stroke="#333">EGFR</text><text x="158.81" y="412.42" transform="rotate(294.14 158.81 412.42)" dy="2.1" text-anchor="end" fill="#333" stroke="#333">ErbB2</text><text x="150.03" y="408.12" transform="rotate(297.97 150.03 408.12)" dy="2.1" text-anchor="end" fill="#1a1a1a" stroke="#1a1a1a">JAK1</text><text x="141.56" y="403.26" transform="rotate(301.80 141.56 403.26)" dy="2.1" text-anchor="end" fill="#1a1a1a" stroke="#1a1a1a">Tyk2</text><text x="133.44" y="397.83" transform="rotate(305.63 133.44 397.83)" dy="2.1" text-anchor="end" fill="#1a1a1a" stroke="#1a1a1a">JAK2</text><text x="125.69" y="391.88" transform="rotate(309.46 125.69 391.88)" dy="2.1" text-anchor="end" fill="#1a1a1a" stroke="#1a1a1a">JAK3</text><text x="118.36" y="385.42" transform="rotate(313.29 118.36 385.42)" dy="2.1" text-anchor="end" fill="#333" stroke="#333">RYK</text><text x="111.47" y="378.49" transform="rotate(317.12 111.47 378.49)" dy="2.1" text-anchor="end" fill="#1a1a1a" stroke="#1a1a1a">Met</text><text x="105.07" y="371.11" transform="rotate(320.95 105.07 371.11)" dy="2.1" text-anchor="end" fill="#1a1a1a" stroke="#1a1a1a">Ron</text><text x="99.17" y="363.32" transform="rotate(324.78 99.17 363.32)" dy="2.1" text-anchor="end" fill="#1a1a1a" stroke="#1a1a1a">Sky</text><text x="93.80" y="355.16" transform="rotate(328.61 93.80 355.16)" dy="2.1" text-anchor="end" fill="#1a1a1a" stroke="#1a1a1a">Axl</text><text x="88.99" y="346.65" transform="rotate(332.44 88.99 346.65)" dy="2.1" text-anchor="end" fill="#1a1a1a" stroke="#1a1a1a">Mer</text><text x="84.76" y="337.84" transform="rotate(336.27 84.76 337.84)" dy="2.1" text-anchor="end" fill="#333" stroke="#333">Ros</text><text x="81.13" y="328.77" transform="rotate(340.10 81.13 328.77)" dy="2.1" text-anchor="end" fill="#333" stroke="#333">ALK</text><text x="78.12" y="319.48" transform="rotate(343.93 78.12 319.48)" dy="2.1" text-anchor="end" fill="#1a1a1a" stroke="#1a1a1a">LTK</text><text x="75.73" y="310.01" transform="rotate(347.76 75.73 310.01)" dy="2.1" text-anchor="end" fill="#333" stroke="#333">IRR</text><text x="73.97" y="300.39" transform="rotate(351.59 73.97 300.39)" dy="2.1" text-anchor="end" fill="#1a1a1a" stroke="#1a1a1a">InsR</text><text x="72.87" y="290.69" transform="rotate(355.42 72.87 290.69)" dy="2.1" text-anchor="end" fill="#1a1a1a" stroke="#1a1a1a">IGF1R</text><text x="72.41" y="280.93" transform="rotate(359.25 72.41 280.93)" dy="2.1" text-anchor="end" fill="#333" stroke="#333">DDR1</text><text x="72.61" y="271.16" transform="rotate(3.07 72.61 271.16)" dy="2.1" text-anchor="end" fill="#333" stroke="#333">DDR2</text><text x="73.46" y="261.42" transform="rotate(6.90 73.46 261.42)" dy="2.1" text-anchor="end" fill="#333" stroke="#333">ROR1</text><text x="74.96" y="251.77" transform="rotate(10.73 74.96 251.77)" dy="2.1" text-anchor="end" fill="#333" stroke="#333">ROR2</text><text x="77.10" y="242.24" transform="rotate(14.56 77.10 242.24)" dy="2.1" text-anchor="end" fill="#333" stroke="#333">Musk</text><text x="79.87" y="232.87" transform="rotate(18.39 79.87 232.87)" dy="2.1" text-anchor="end" fill="#333" stroke="#333">TRKA</text><text x="83.26" y="223.70" transform="rotate(22.22 83.26 223.70)" dy="2.1" text-anchor="end" fill="#333" stroke="#333">TRKB</text><text x="87.26" y="214.79" transform="rotate(26.05 87.26 214.79)" dy="2.1" text-anchor="end" fill="#333" stroke="#333">TRKC</text><text x="91.84" y="206.16" transform="rotate(29.88 91.84 206.16)" dy="2.1" text-anchor="end" fill="#1a1a1a" stroke="#1a1a1a">FAK</text><text x="96.99" y="197.85" transform="rotate(33.71 96.99 197.85)" dy="2.1" text-anchor="end" fill="#1a1a1a" stroke="#1a1a1a">PYK2</text><text x="102.68" y="189.91" transform="rotate(37.54 102.68 189.91)" dy="2.1" text-anchor="end" fill="#1a1a1a" stroke="#1a1a1a">Syk</text><text x="108.89" y="182.37" transform="rotate(41.37 108.89 182.37)" dy="2.1" text-anchor="end" fill="#333" stroke="#333">ZAP70</text><text x="115.59" y="175.26" transform="rotate(45.20 115.59 175.26)" dy="2.1" text-anchor="end" fill="#333" stroke="#333">EphB6</text><text x="122.75" y="168.61" transform="rotate(49.03 122.75 168.61)" dy="2.1" text-anchor="end" fill="#333" stroke="#333">EphA10</text><text x="130.33" y="162.45" transform="rotate(52.86 130.33 162.45)" dy="2.1" text-anchor="end" fill="#333" stroke="#333">EphA1</text></g>
<line x1="219.2" y1="277.7" x2="256.2" y2="244.6" stroke="#555" stroke-width="0.6"/>
<text x="207.5" y="293.0" font-size="16" font-family="'Liberation Sans', sans-serif" fill="#111">TK</text>
<text x="430.9" y="271.8" font-size="8.6" font-family="'Liberation Sans', sans-serif" fill="#111" stroke="#111" stroke-width="0.2">3x</text>
<text x="484.3" y="267.3" font-size="8.6" font-family="'Liberation Sans', sans-serif" fill="#111" stroke="#111" stroke-width="0.2">3x</text>
<path d="M37.62,582.12 L37.42,581.90 L37.22,581.68 L37.03,581.45 L36.85,581.23 L36.67,581.00 L36.49,580.77 L36.32,580.54 L36.15,580.31 L35.99,580.08 L35.83,579.85 L35.68,579.62 L35.54,579.38 L35.39,579.15 L35.26,578.91 L35.13,578.68 L35.00,578.44 L34.88,578.20 L34.76,577.96 L34.65,577.73 L34.54,577.49 L34.44,577.24 L34.35,577.00 L34.25,576.76 L34.17,576.52 L34.09,576.28 L34.01,576.03 L33.94,575.79 L33.88,575.55 L33.82,575.30 L33.76,575.06 L33.71,574.81 L33.67,574.57 L33.63,574.32 L33.59,574.08 L33.57,573.83 L33.54,573.59 L33.52,573.34 L33.51,573.09 L33.50,572.85 L33.50,572.60 L33.50,586.60 L33.50,586.85 L33.51,587.09 L33.52,587.34 L33.54,587.59 L33.57,587.83 L33.59,588.08 L33.63,588.32 L33.67,588.57 L33.71,588.81 L33.76,589.06 L33.82,589.30 L33.88,589.55 L33.94,589.79 L34.01,590.03 L34.09,590.28 L34.17,590.52 L34.25,590.76 L34.35,591.00 L34.44,591.24 L34.54,591.49 L34.65,591.73 L34.76,591.96 L34.88,592.20 L35.00,592.44 L35.13,592.68 L35.26,592.91 L35.39,593.15 L35.54,593.38 L35.68,593.62 L35.83,593.85 L35.99,594.08 L36.15,594.31 L36.32,594.54 L36.49,594.77 L36.67,595.00 L36.85,595.23 L37.03,595.45 L37.22,595.68 L37.42,595.90 L37.62,596.12Z" fill="#c91c22" stroke="#8a1015" stroke-width="0.6" stroke-linejoin="round"/>
<path d="M73.70,573.60 L83.13,594.82 L83.13,608.82 L73.70,587.60Z" fill="#46a336" stroke="#2a6a1e" stroke-width="0.6" stroke-linejoin="round"/>
<path d="M73.70,573.60 L36.82,583.12 L36.82,597.12 L73.70,587.60Z" fill="#46a336" stroke="#2a6a1e" stroke-width="0.6" stroke-linejoin="round"/>
<path d="M83.13,594.82 L81.78,594.97 L80.42,595.11 L79.05,595.21 L77.67,595.30 L76.29,595.36 L74.91,595.39 L73.52,595.40 L72.14,595.38 L70.76,595.34 L69.38,595.28 L68.00,595.19 L66.64,595.07 L65.28,594.94 L63.93,594.77 L62.59,594.58 L61.26,594.37 L59.95,594.14 L58.65,593.88 L57.37,593.60 L56.11,593.29 L54.87,592.97 L53.65,592.62 L52.46,592.25 L51.29,591.85 L50.14,591.44 L49.02,591.01 L47.93,590.55 L46.87,590.08 L45.84,589.59 L44.84,589.08 L43.87,588.55 L42.94,588.01 L42.04,587.45 L41.18,586.87 L40.35,586.28 L39.57,585.68 L38.82,585.06 L38.11,584.42 L37.44,583.78 L36.82,583.12 L36.82,597.12 L37.44,597.78 L38.11,598.42 L38.82,599.06 L39.57,599.68 L40.35,600.28 L41.18,600.87 L42.04,601.45 L42.94,602.01 L43.87,602.55 L44.84,603.08 L45.84,603.59 L46.87,604.08 L47.93,604.55 L49.02,605.01 L50.14,605.44 L51.29,605.85 L52.46,606.25 L53.65,606.62 L54.87,606.97 L56.11,607.29 L57.37,607.60 L58.65,607.88 L59.95,608.14 L61.26,608.37 L62.59,608.58 L63.93,608.77 L65.28,608.94 L66.64,609.07 L68.00,609.19 L69.38,609.28 L70.76,609.34 L72.14,609.38 L73.52,609.40 L74.91,609.39 L76.29,609.36 L77.67,609.30 L79.05,609.21 L80.42,609.11 L81.78,608.97 L83.13,608.82Z" fill="#46a336" stroke="#2a6a1e" stroke-width="0.6" stroke-linejoin="round"/>
<path d="M76.50,573.20 L117.50,573.20 L117.50,587.20 L76.50,587.20Z" fill="#2c3f96" stroke="#1c2a66" stroke-width="0.6" stroke-linejoin="round"/>
<path d="M117.50,573.20 L117.48,573.93 L117.41,574.66 L117.29,575.39 L117.13,576.11 L116.93,576.83 L116.68,577.55 L116.38,578.26 L116.04,578.97 L115.65,579.67 L115.23,580.36 L114.75,581.05 L114.24,581.72 L113.68,582.39 L113.08,583.04 L112.44,583.69 L111.76,584.32 L111.04,584.94 L110.28,585.55 L109.49,586.15 L108.65,586.73 L107.78,587.29 L106.88,587.84 L105.94,588.37 L104.97,588.89 L103.97,589.38 L102.93,589.86 L101.87,590.33 L100.78,590.77 L99.66,591.19 L98.51,591.59 L97.34,591.97 L96.15,592.33 L94.94,592.67 L93.70,592.99 L92.45,593.28 L91.17,593.56 L89.88,593.81 L88.58,594.03 L87.26,594.24 L85.93,594.42 L85.93,608.42 L87.26,608.24 L88.58,608.03 L89.88,607.81 L91.17,607.56 L92.45,607.28 L93.70,606.99 L94.94,606.67 L96.15,606.33 L97.34,605.97 L98.51,605.59 L99.66,605.19 L100.78,604.77 L101.87,604.33 L102.93,603.86 L103.97,603.38 L104.97,602.89 L105.94,602.37 L106.88,601.84 L107.78,601.29 L108.65,600.73 L109.49,600.15 L110.28,599.55 L111.04,598.94 L111.76,598.32 L112.44,597.69 L113.08,597.04 L113.68,596.39 L114.24,595.72 L114.75,595.05 L115.23,594.36 L115.65,593.67 L116.04,592.97 L116.38,592.26 L116.68,591.55 L116.93,590.83 L117.13,590.11 L117.29,589.39 L117.41,588.66 L117.48,587.93 L117.50,587.20Z" fill="#2c3f96" stroke="#1c2a66" stroke-width="0.6" stroke-linejoin="round"/>

<path d="M74.50,572.60 L37.62,582.12 L36.61,580.93 L35.74,579.71 L35.01,578.46 L34.42,577.20 L33.98,575.91 L33.68,574.62 L33.52,573.31 L33.52,572.01 L33.66,570.71 L33.94,569.41 L34.37,568.12 L34.95,566.85 L35.67,565.61 L36.52,564.38 L37.52,563.19 L38.64,562.03 L39.90,560.91 L41.28,559.83 L42.77,558.79 L44.38,557.81 L46.10,556.87 L47.93,556.00 L49.84,555.18 L51.85,554.43 L53.93,553.74 L56.09,553.12 L58.32,552.57 L60.60,552.09 L62.94,551.68 L65.31,551.35 L67.72,551.10 L70.15,550.92 L72.60,550.82 L75.06,550.80 L77.51,550.86 L79.95,550.99 L82.37,551.21 L84.77,551.49 L87.13,551.86 L89.44,552.30 L91.70,552.81 L93.89,553.39 L96.02,554.04 L98.07,554.76 L100.04,555.55 L101.91,556.39 L103.69,557.29 L105.36,558.25 L106.92,559.25 L108.36,560.31 L109.69,561.41 L110.88,562.55 L111.95,563.73 L112.88,564.93 L113.68,566.17 L114.33,567.43 L114.84,568.70 L115.21,569.99 L115.43,571.30 L115.50,572.60Z" fill="#ee2229" stroke="#8a1015" stroke-width="0.6" stroke-linejoin="round"/>
<path d="M73.70,573.60 L83.13,594.82 L82.23,594.92 L81.33,595.02 L80.42,595.11 L79.51,595.18 L78.59,595.24 L77.67,595.30 L76.75,595.34 L75.83,595.37 L74.91,595.39 L73.99,595.40 L73.06,595.40 L72.14,595.38 L71.22,595.36 L70.30,595.32 L69.38,595.28 L68.46,595.22 L67.55,595.15 L66.64,595.07 L65.73,594.98 L64.83,594.88 L63.93,594.77 L63.03,594.65 L62.14,594.52 L61.26,594.37 L60.39,594.22 L59.52,594.05 L58.65,593.88 L57.80,593.69 L56.95,593.50 L56.11,593.29 L55.28,593.08 L54.46,592.85 L53.65,592.62 L52.85,592.37 L52.06,592.12 L51.29,591.85 L50.52,591.58 L49.76,591.30 L49.02,591.01 L48.29,590.71 L47.57,590.40 L46.87,590.08 L46.18,589.76 L45.50,589.42 L44.84,589.08 L44.19,588.73 L43.55,588.38 L42.94,588.01 L42.33,587.64 L41.75,587.26 L41.18,586.87 L40.62,586.48 L40.09,586.08 L39.57,585.68 L39.06,585.26 L38.58,584.85 L38.11,584.42 L37.66,584.00 L37.23,583.56 L36.82,583.12Z" fill="#5dbf48" stroke="#2a6a1e" stroke-width="0.6" stroke-linejoin="round"/>
<path d="M76.50,573.20 L117.50,573.20 L117.49,573.69 L117.46,574.17 L117.41,574.66 L117.34,575.14 L117.25,575.63 L117.13,576.11 L117.00,576.59 L116.85,577.07 L116.68,577.55 L116.48,578.02 L116.27,578.50 L116.04,578.97 L115.79,579.43 L115.52,579.90 L115.23,580.36 L114.92,580.82 L114.59,581.27 L114.24,581.72 L113.87,582.17 L113.49,582.61 L113.08,583.04 L112.66,583.48 L112.22,583.90 L111.76,584.32 L111.29,584.74 L110.79,585.15 L110.28,585.55 L109.76,585.95 L109.21,586.34 L108.65,586.73 L108.08,587.10 L107.49,587.48 L106.88,587.84 L106.26,588.20 L105.62,588.55 L104.97,588.89 L104.31,589.22 L103.63,589.55 L102.93,589.86 L102.23,590.17 L101.51,590.47 L100.78,590.77 L100.04,591.05 L99.28,591.33 L98.51,591.59 L97.74,591.85 L96.95,592.09 L96.15,592.33 L95.34,592.56 L94.53,592.78 L93.70,592.99 L92.87,593.19 L92.02,593.38 L91.17,593.56 L90.32,593.73 L89.45,593.88 L88.58,594.03 L87.70,594.17 L86.82,594.30 L85.93,594.42Z" fill="#3a4fae" stroke="#1c2a66" stroke-width="0.6" stroke-linejoin="round"/>
<path d="M253.96,592.28 L252.00,592.78 L249.99,593.22 L247.95,593.62 L245.86,593.96 L243.75,594.24 L241.61,594.46 L239.45,594.63 L237.28,594.74 L235.10,594.80 L232.92,594.79 L230.74,594.73 L228.57,594.61 L226.42,594.43 L224.28,594.19 L222.17,593.90 L220.10,593.55 L218.06,593.15 L216.06,592.70 L214.11,592.19 L212.22,591.63 L210.38,591.02 L208.60,590.36 L206.89,589.66 L205.26,588.91 L203.70,588.12 L202.22,587.29 L200.83,586.42 L199.52,585.52 L198.30,584.58 L197.18,583.61 L196.16,582.61 L195.24,581.59 L194.42,580.54 L193.70,579.47 L193.09,578.39 L192.59,577.29 L192.20,576.18 L191.92,575.06 L191.76,573.93 L191.70,572.80 L191.70,583.80 L191.76,584.93 L191.92,586.06 L192.20,587.18 L192.59,588.29 L193.09,589.39 L193.70,590.47 L194.42,591.54 L195.24,592.59 L196.16,593.61 L197.18,594.61 L198.30,595.58 L199.52,596.52 L200.83,597.42 L202.22,598.29 L203.70,599.12 L205.26,599.91 L206.89,600.66 L208.60,601.36 L210.38,602.02 L212.22,602.63 L214.11,603.19 L216.06,603.70 L218.06,604.15 L220.10,604.55 L222.17,604.90 L224.28,605.19 L226.42,605.43 L228.57,605.61 L230.74,605.73 L232.92,605.79 L235.10,605.80 L237.28,605.74 L239.45,605.63 L241.61,605.46 L243.75,605.24 L245.86,604.96 L247.95,604.62 L249.99,604.22 L252.00,603.78 L253.96,603.28Z" fill="#c91c22" stroke="#8a1015" stroke-width="0.6" stroke-linejoin="round"/>
<path d="M276.56,578.57 L276.33,579.02 L276.09,579.46 L275.82,579.90 L275.54,580.33 L275.24,580.76 L274.92,581.19 L274.58,581.62 L274.23,582.04 L273.86,582.46 L273.48,582.87 L273.07,583.28 L272.65,583.69 L272.22,584.09 L271.77,584.49 L271.30,584.88 L270.82,585.26 L270.32,585.64 L269.80,586.02 L269.27,586.39 L268.73,586.75 L268.17,587.11 L267.60,587.46 L267.01,587.80 L266.41,588.14 L265.80,588.48 L265.17,588.80 L264.53,589.12 L263.88,589.43 L263.21,589.74 L262.53,590.03 L261.84,590.32 L261.14,590.61 L260.43,590.88 L259.71,591.15 L258.97,591.41 L258.23,591.66 L257.47,591.90 L256.71,592.13 L255.94,592.36 L255.16,592.58 L255.16,603.58 L255.94,603.36 L256.71,603.13 L257.47,602.90 L258.23,602.66 L258.97,602.41 L259.71,602.15 L260.43,601.88 L261.14,601.61 L261.84,601.32 L262.53,601.03 L263.21,600.74 L263.88,600.43 L264.53,600.12 L265.17,599.80 L265.80,599.48 L266.41,599.14 L267.01,598.80 L267.60,598.46 L268.17,598.11 L268.73,597.75 L269.27,597.39 L269.80,597.02 L270.32,596.64 L270.82,596.26 L271.30,595.88 L271.77,595.49 L272.22,595.09 L272.65,594.69 L273.07,594.28 L273.48,593.87 L273.86,593.46 L274.23,593.04 L274.58,592.62 L274.92,592.19 L275.24,591.76 L275.54,591.33 L275.82,590.90 L276.09,590.46 L276.33,590.02 L276.56,589.57Z" fill="#46a336" stroke="#1e4a15" stroke-width="0.6" stroke-linejoin="round"/>
<path d="M279.20,572.30 L279.20,572.44 L279.20,572.58 L279.19,572.71 L279.19,572.85 L279.18,572.99 L279.17,573.13 L279.16,573.27 L279.15,573.41 L279.13,573.54 L279.12,573.68 L279.10,573.82 L279.08,573.96 L279.06,574.09 L279.04,574.23 L279.01,574.37 L278.99,574.51 L278.96,574.65 L278.93,574.78 L278.90,574.92 L278.86,575.06 L278.83,575.19 L278.79,575.33 L278.76,575.47 L278.72,575.60 L278.68,575.74 L278.63,575.88 L278.59,576.01 L278.54,576.15 L278.50,576.29 L278.45,576.42 L278.40,576.56 L278.34,576.69 L278.29,576.83 L278.23,576.96 L278.18,577.10 L278.12,577.23 L278.06,577.37 L277.99,577.50 L277.93,577.64 L277.86,577.77 L277.86,588.77 L277.93,588.64 L277.99,588.50 L278.06,588.37 L278.12,588.23 L278.18,588.10 L278.23,587.96 L278.29,587.83 L278.34,587.69 L278.40,587.56 L278.45,587.42 L278.50,587.29 L278.54,587.15 L278.59,587.01 L278.63,586.88 L278.68,586.74 L278.72,586.60 L278.76,586.47 L278.79,586.33 L278.83,586.19 L278.86,586.06 L278.90,585.92 L278.93,585.78 L278.96,585.65 L278.99,585.51 L279.01,585.37 L279.04,585.23 L279.06,585.09 L279.08,584.96 L279.10,584.82 L279.12,584.68 L279.13,584.54 L279.15,584.41 L279.16,584.27 L279.17,584.13 L279.18,583.99 L279.19,583.85 L279.19,583.71 L279.20,583.58 L279.20,583.44 L279.20,583.30Z" fill="#2c3f96" stroke="#0f1a55" stroke-width="0.6" stroke-linejoin="round"/>
<path d="M235.40,573.10 L276.56,578.57 L276.56,589.57 L235.40,584.10Z" fill="#46a336" stroke="#1e4a15" stroke-width="0.6" stroke-linejoin="round"/>
<path d="M234.20,572.80 L253.96,592.28 L250.63,593.09 L247.18,593.75 L243.63,594.25 L240.01,594.59 L236.34,594.77 L232.66,594.79 L229.00,594.63 L225.37,594.32 L221.81,593.84 L218.34,593.21 L214.99,592.42 L211.78,591.49 L208.74,590.42 L205.89,589.21 L203.26,587.88 L200.85,586.44 L198.70,584.90 L196.81,583.26 L195.20,581.55 L193.89,579.77 L192.88,577.94 L192.17,576.07 L191.78,574.17 L191.71,572.27 L191.96,570.37 L192.52,568.49 L193.40,566.64 L194.58,564.83 L196.06,563.09 L197.83,561.42 L199.87,559.83 L202.16,558.35 L204.70,556.97 L207.45,555.70 L210.41,554.57 L213.54,553.57 L216.83,552.72 L220.25,552.02 L223.78,551.47 L227.38,551.09 L231.03,550.86 L234.71,550.80 L238.39,550.91 L242.03,551.18 L245.61,551.61 L249.11,552.20 L252.50,552.94 L255.74,553.84 L258.83,554.87 L261.74,556.04 L264.43,557.34 L266.90,558.75 L269.13,560.27 L271.09,561.88 L272.78,563.57 L274.18,565.33 L275.27,567.15 L276.06,569.01 L276.54,570.90 L276.70,572.80Z" fill="#ee2229" stroke="#8a1015" stroke-width="0.6" stroke-linejoin="round"/>
<path d="M235.40,573.10 L276.56,578.57 L276.41,578.87 L276.25,579.16 L276.09,579.46 L275.91,579.75 L275.73,580.04 L275.54,580.33 L275.34,580.62 L275.13,580.91 L274.92,581.19 L274.70,581.48 L274.47,581.76 L274.23,582.04 L273.99,582.32 L273.74,582.60 L273.48,582.87 L273.21,583.15 L272.94,583.42 L272.65,583.69 L272.37,583.96 L272.07,584.22 L271.77,584.49 L271.46,584.75 L271.14,585.01 L270.82,585.26 L270.48,585.52 L270.15,585.77 L269.80,586.02 L269.45,586.26 L269.09,586.51 L268.73,586.75 L268.36,586.99 L267.98,587.23 L267.60,587.46 L267.21,587.69 L266.81,587.92 L266.41,588.14 L266.00,588.37 L265.59,588.58 L265.17,588.80 L264.74,589.01 L264.31,589.22 L263.88,589.43 L263.43,589.63 L262.99,589.84 L262.53,590.03 L262.07,590.23 L261.61,590.42 L261.14,590.61 L260.67,590.79 L260.19,590.97 L259.71,591.15 L259.22,591.32 L258.73,591.49 L258.23,591.66 L257.73,591.82 L257.22,591.98 L256.71,592.13 L256.20,592.29 L255.68,592.43 L255.16,592.58Z" fill="#5dbf48" stroke="#1e4a15" stroke-width="0.6" stroke-linejoin="round"/>
<path d="M236.70,572.30 L279.20,572.30 L279.20,572.39 L279.20,572.48 L279.20,572.58 L279.19,572.67 L279.19,572.76 L279.19,572.85 L279.18,572.94 L279.18,573.04 L279.17,573.13 L279.16,573.22 L279.15,573.31 L279.15,573.41 L279.14,573.50 L279.13,573.59 L279.12,573.68 L279.10,573.77 L279.09,573.87 L279.08,573.96 L279.07,574.05 L279.05,574.14 L279.04,574.23 L279.02,574.32 L279.00,574.42 L278.99,574.51 L278.97,574.60 L278.95,574.69 L278.93,574.78 L278.91,574.87 L278.89,574.97 L278.86,575.06 L278.84,575.15 L278.82,575.24 L278.79,575.33 L278.77,575.42 L278.74,575.51 L278.72,575.60 L278.69,575.70 L278.66,575.79 L278.63,575.88 L278.60,575.97 L278.57,576.06 L278.54,576.15 L278.51,576.24 L278.48,576.33 L278.45,576.42 L278.41,576.51 L278.38,576.60 L278.34,576.69 L278.31,576.78 L278.27,576.87 L278.23,576.96 L278.20,577.05 L278.16,577.14 L278.12,577.23 L278.08,577.32 L278.04,577.41 L277.99,577.50 L277.95,577.59 L277.91,577.68 L277.86,577.77Z" fill="#3a4fae" stroke="#0f1a55" stroke-width="0.6" stroke-linejoin="round"/>
<text x="7.9" y="531.8" font-size="16.3" font-weight="bold" fill="#111" textLength="10.36" lengthAdjust="spacingAndGlyphs" font-family="'Liberation Sans', sans-serif">B</text>
<text x="40.3" y="543.2" font-size="6" fill="#222" stroke="#222" stroke-width="0.07" textLength="42.8" font-family="'Liberation Sans', sans-serif">Serine (57.2 %)</text>
<text x="102.1" y="613.3" font-size="6" fill="#222" stroke="#222" stroke-width="0.07" textLength="47.7" font-family="'Liberation Sans', sans-serif">Tyrosine (21.3 %)</text>
<text x="24" y="620.6" font-size="6" fill="#222" stroke="#222" stroke-width="0.07" textLength="52" font-family="'Liberation Sans', sans-serif">Threonine (21.5 %)</text>
<text x="194.0" y="533.3" font-size="16.3" font-weight="bold" fill="#111" textLength="10.36" lengthAdjust="spacingAndGlyphs" font-family="'Liberation Sans', sans-serif">C</text>
<text x="168.7" y="546.5" font-size="6" fill="#222" stroke="#222" stroke-width="0.07" textLength="45" font-family="'Liberation Sans', sans-serif">Serine (82.7 %)</text>
<text x="282.7" y="577.2" font-size="6" fill="#222" stroke="#222" stroke-width="0.07" textLength="46.6" font-family="'Liberation Sans', sans-serif">Tyrosine (4.0 %)</text>
<text x="268.5" y="608.9" font-size="6" fill="#222" stroke="#222" stroke-width="0.07" textLength="54.4" font-family="'Liberation Sans', sans-serif">Threonine (13.3 %)</text>
<path d="M400.8,579.6 L432.45,562.44 A36,36 0 1 1 395.60,543.98Z" fill="#c7e1ef" stroke="#76808a" stroke-width="0.7" stroke-linejoin="round"/>
<path d="M400.8,579.6 L395.60,543.98 A36,36 0 0 1 428.67,556.82Z" fill="#f5864a" stroke="#76808a" stroke-width="0.7" stroke-linejoin="round"/>
<path d="M400.8,579.6 L428.67,556.82 A36,36 0 0 1 432.45,562.44Z" fill="#fbee70" stroke="#76808a" stroke-width="0.7" stroke-linejoin="round"/>
<text x="356.8" y="533.3" font-size="16.3" font-weight="bold" fill="#111" textLength="10.36" lengthAdjust="spacingAndGlyphs" font-family="'Liberation Sans', sans-serif">D</text>
<text x="404.4" y="562.4" font-size="6.6" fill="#3a2a20" stroke="#3a2a20" stroke-width="0.06" textLength="16.3" font-family="'Liberation Sans', sans-serif">16.4%</text>
<text x="428.5" y="563" font-size="5.2" fill="#3a2a20" textLength="6.4" font-family="'Liberation Sans', sans-serif">3%</text>
<text x="394" y="596.1" font-size="6.6" fill="#2a3a50" stroke="#2a3a50" stroke-width="0.06" textLength="16" font-family="'Liberation Sans', sans-serif">80.6%</text>
<rect x="346.8" y="623.2" width="16" height="11.6" fill="#fbee70" stroke="#8a8a7a" stroke-width="0.6"/>
<text x="366.8" y="630.7" font-size="6.0" fill="#2a2a2a" stroke="#2a2a2a" stroke-width="0.06" textLength="81.5" font-family="'Liberation Sans', sans-serif">Dephosphorylated Sites (92)</text>
<rect x="346.8" y="640.8" width="16" height="11.6" fill="#f5864a" stroke="#8a8a7a" stroke-width="0.6"/>
<text x="366.8" y="648.3" font-size="6.0" fill="#2a2a2a" stroke="#2a2a2a" stroke-width="0.06" textLength="116.5" font-family="'Liberation Sans', sans-serif">Experimentally derived phosphosites (505)</text>
<rect x="346.8" y="658.4" width="16" height="11.6" fill="#aadde2" stroke="#8a8a7a" stroke-width="0.6"/>
<text x="366.8" y="665.9" font-size="6.0" fill="#2a2a2a" stroke="#2a2a2a" stroke-width="0.06" textLength="103.5" font-family="'Liberation Sans', sans-serif">Literature derived phosphosites (2483)</text>
<text x="41.4" y="692.5" font-size="16.3" font-weight="bold" fill="#111" textLength="9.57" lengthAdjust="spacingAndGlyphs" font-family="'Liberation Sans', sans-serif">E</text>
<line x1="61.2" y1="710.50" x2="61.2" y2="897.40" stroke="#555" stroke-width="0.8"/>
<line x1="56.2" y1="897.40" x2="61.2" y2="897.40" stroke="#555" stroke-width="0.8"/>
<text transform="translate(49.9,897.40) rotate(-90)" text-anchor="middle" font-size="7.7" fill="#333" stroke="#333" stroke-width="0.12" font-family="'Liberation Sans', sans-serif">0</text>
<line x1="56.2" y1="866.25" x2="61.2" y2="866.25" stroke="#555" stroke-width="0.8"/>
<text transform="translate(49.9,866.25) rotate(-90)" text-anchor="middle" font-size="7.7" fill="#333" stroke="#333" stroke-width="0.12" font-family="'Liberation Sans', sans-serif">5</text>
<line x1="56.2" y1="835.10" x2="61.2" y2="835.10" stroke="#555" stroke-width="0.8"/>
<text transform="translate(49.9,835.10) rotate(-90)" text-anchor="middle" font-size="7.7" fill="#333" stroke="#333" stroke-width="0.12" font-family="'Liberation Sans', sans-serif">10</text>
<line x1="56.2" y1="803.95" x2="61.2" y2="803.95" stroke="#555" stroke-width="0.8"/>
<text transform="translate(49.9,803.95) rotate(-90)" text-anchor="middle" font-size="7.7" fill="#333" stroke="#333" stroke-width="0.12" font-family="'Liberation Sans', sans-serif">15</text>
<line x1="56.2" y1="772.80" x2="61.2" y2="772.80" stroke="#555" stroke-width="0.8"/>
<text transform="translate(49.9,772.80) rotate(-90)" text-anchor="middle" font-size="7.7" fill="#333" stroke="#333" stroke-width="0.12" font-family="'Liberation Sans', sans-serif">20</text>
<line x1="56.2" y1="741.65" x2="61.2" y2="741.65" stroke="#555" stroke-width="0.8"/>
<text transform="translate(49.9,741.65) rotate(-90)" text-anchor="middle" font-size="7.7" fill="#333" stroke="#333" stroke-width="0.12" font-family="'Liberation Sans', sans-serif">25</text>
<line x1="56.2" y1="710.50" x2="61.2" y2="710.50" stroke="#555" stroke-width="0.8"/>
<text transform="translate(49.9,710.50) rotate(-90)" text-anchor="middle" font-size="7.7" fill="#333" stroke="#333" stroke-width="0.12" font-family="'Liberation Sans', sans-serif">30</text>
<rect x="67.00" y="800.21" width="5.6" height="97.19" fill="#e8202a" stroke="#3a1010" stroke-width="0.45"/>
<rect x="72.60" y="836.35" width="5.6" height="61.05" fill="#3349a3" stroke="#10183a" stroke-width="0.45"/>
<text transform="translate(75.40,904.00) rotate(-45)" text-anchor="end" font-size="7.6" fill="#333" stroke="#333" stroke-width="0.12" font-family="'Liberation Sans', sans-serif">AGC</text>
<rect x="83.20" y="820.15" width="5.6" height="77.25" fill="#e8202a" stroke="#3a1010" stroke-width="0.45"/>
<rect x="88.80" y="855.04" width="5.6" height="42.36" fill="#3349a3" stroke="#10183a" stroke-width="0.45"/>
<text transform="translate(91.60,904.00) rotate(-45)" text-anchor="end" font-size="7.6" fill="#333" stroke="#333" stroke-width="0.12" font-family="'Liberation Sans', sans-serif">STE</text>
<rect x="99.40" y="834.48" width="5.6" height="62.92" fill="#e8202a" stroke="#3a1010" stroke-width="0.45"/>
<rect x="105.00" y="787.75" width="5.6" height="109.65" fill="#3349a3" stroke="#10183a" stroke-width="0.45"/>
<text transform="translate(107.80,904.00) rotate(-45)" text-anchor="end" font-size="7.6" fill="#333" stroke="#333" stroke-width="0.12" font-family="'Liberation Sans', sans-serif">CAMK</text>
<rect x="115.60" y="883.07" width="5.6" height="14.33" fill="#e8202a" stroke="#3a1010" stroke-width="0.45"/>
<rect x="121.20" y="882.45" width="5.6" height="14.95" fill="#3349a3" stroke="#10183a" stroke-width="0.45"/>
<text transform="translate(124.00,904.00) rotate(-45)" text-anchor="end" font-size="7.6" fill="#333" stroke="#333" stroke-width="0.12" font-family="'Liberation Sans', sans-serif">CK1</text>
<rect x="131.80" y="797.10" width="5.6" height="100.30" fill="#e8202a" stroke="#3a1010" stroke-width="0.45"/>
<rect x="137.40" y="838.21" width="5.6" height="59.19" fill="#3349a3" stroke="#10183a" stroke-width="0.45"/>
<text transform="translate(140.20,904.00) rotate(-45)" text-anchor="end" font-size="7.6" fill="#333" stroke="#333" stroke-width="0.12" font-family="'Liberation Sans', sans-serif">CMGC</text>
<rect x="148.00" y="751.62" width="5.6" height="145.78" fill="#e8202a" stroke="#3a1010" stroke-width="0.45"/>
<rect x="153.60" y="814.54" width="5.6" height="82.86" fill="#3349a3" stroke="#10183a" stroke-width="0.45"/>
<text transform="translate(156.40,904.00) rotate(-45)" text-anchor="end" font-size="7.6" fill="#333" stroke="#333" stroke-width="0.12" font-family="'Liberation Sans', sans-serif">TK</text>
<rect x="164.20" y="865.94" width="5.6" height="31.46" fill="#e8202a" stroke="#3a1010" stroke-width="0.45"/>
<rect x="169.80" y="829.80" width="5.6" height="67.60" fill="#3349a3" stroke="#10183a" stroke-width="0.45"/>
<text transform="translate(172.60,904.00) rotate(-45)" text-anchor="end" font-size="7.6" fill="#333" stroke="#333" stroke-width="0.12" font-family="'Liberation Sans', sans-serif">TKL</text>
<rect x="180.40" y="863.13" width="5.6" height="34.27" fill="#e8202a" stroke="#3a1010" stroke-width="0.45"/>
<rect x="186.00" y="842.20" width="5.6" height="55.20" fill="#3349a3" stroke="#10183a" stroke-width="0.45"/>
<text transform="translate(188.80,904.00) rotate(-45)" text-anchor="end" font-size="7.6" fill="#333" stroke="#333" stroke-width="0.12" font-family="'Liberation Sans', sans-serif">Atypical</text>
<rect x="196.60" y="837.28" width="5.6" height="60.12" fill="#e8202a" stroke="#3a1010" stroke-width="0.45"/>
<rect x="202.20" y="776.85" width="5.6" height="120.55" fill="#3349a3" stroke="#10183a" stroke-width="0.45"/>
<text transform="translate(205.00,904.00) rotate(-45)" text-anchor="end" font-size="7.6" fill="#333" stroke="#333" stroke-width="0.12" font-family="'Liberation Sans', sans-serif">Other</text>
<rect x="212.80" y="897.40" width="5.6" height="0.00" fill="#e8202a" stroke="#3a1010" stroke-width="0.45"/>
<rect x="218.40" y="886.50" width="5.6" height="10.90" fill="#3349a3" stroke="#10183a" stroke-width="0.45"/>
<text transform="translate(221.20,904.00) rotate(-45)" text-anchor="end" font-size="7.6" fill="#333" stroke="#333" stroke-width="0.12" font-family="'Liberation Sans', sans-serif">RGC</text>
<text transform="translate(31.9,804.3) rotate(-90)" text-anchor="middle" font-size="7.5" fill="#222" stroke="#222" stroke-width="0.12" font-family="'Liberation Sans', sans-serif">% Kinases</text>
<line x1="213.2" y1="897.4" x2="218.6" y2="897.4" stroke="#3a1010" stroke-width="0.6"/>
<rect x="103.6" y="717.4" width="5.2" height="4.9" fill="#e8202a" stroke="#3a1010" stroke-width="0.4"/>
<rect x="103.6" y="726.6" width="5.2" height="4.9" fill="#3349a3" stroke="#10183a" stroke-width="0.4"/>
<text x="117.2" y="722.3" font-size="6.9" fill="#222" stroke="#222" stroke-width="0.1" textLength="59.2" font-family="'Liberation Sans', sans-serif">% Platelet kinases</text>
<text x="117.2" y="731.6" font-size="6.9" fill="#222" stroke="#222" stroke-width="0.1" textLength="76.8" font-family="'Liberation Sans', sans-serif">% Non−platelet kinases</text>
<text x="269.7" y="691.6" font-size="16.3" font-weight="bold" fill="#111" textLength="8.76" lengthAdjust="spacingAndGlyphs" font-family="'Liberation Sans', sans-serif">F</text>
<line x1="290.5" y1="710.52" x2="290.5" y2="897.00" stroke="#555" stroke-width="0.8"/>
<line x1="285.5" y1="897.00" x2="290.5" y2="897.00" stroke="#555" stroke-width="0.8"/>
<text transform="translate(280.2,897.00) rotate(-90)" text-anchor="middle" font-size="7.2" fill="#333" stroke="#333" stroke-width="0.12" font-family="'Liberation Sans', sans-serif">0</text>
<line x1="285.5" y1="865.92" x2="290.5" y2="865.92" stroke="#555" stroke-width="0.8"/>
<text transform="translate(280.2,865.92) rotate(-90)" text-anchor="middle" font-size="7.2" fill="#333" stroke="#333" stroke-width="0.12" font-family="'Liberation Sans', sans-serif">10</text>
<line x1="285.5" y1="834.84" x2="290.5" y2="834.84" stroke="#555" stroke-width="0.8"/>
<text transform="translate(280.2,834.84) rotate(-90)" text-anchor="middle" font-size="7.2" fill="#333" stroke="#333" stroke-width="0.12" font-family="'Liberation Sans', sans-serif">20</text>
<line x1="285.5" y1="803.76" x2="290.5" y2="803.76" stroke="#555" stroke-width="0.8"/>
<text transform="translate(280.2,803.76) rotate(-90)" text-anchor="middle" font-size="7.2" fill="#333" stroke="#333" stroke-width="0.12" font-family="'Liberation Sans', sans-serif">30</text>
<line x1="285.5" y1="772.68" x2="290.5" y2="772.68" stroke="#555" stroke-width="0.8"/>
<text transform="translate(280.2,772.68) rotate(-90)" text-anchor="middle" font-size="7.2" fill="#333" stroke="#333" stroke-width="0.12" font-family="'Liberation Sans', sans-serif">40</text>
<line x1="285.5" y1="741.60" x2="290.5" y2="741.60" stroke="#555" stroke-width="0.8"/>
<text transform="translate(280.2,741.60) rotate(-90)" text-anchor="middle" font-size="7.2" fill="#333" stroke="#333" stroke-width="0.12" font-family="'Liberation Sans', sans-serif">50</text>
<line x1="285.5" y1="710.52" x2="290.5" y2="710.52" stroke="#555" stroke-width="0.8"/>
<text transform="translate(280.2,710.52) rotate(-90)" text-anchor="middle" font-size="7.2" fill="#333" stroke="#333" stroke-width="0.12" font-family="'Liberation Sans', sans-serif">60</text>
<rect x="297.00" y="777.96" width="6.1" height="119.04" fill="#e8202a" stroke="#3a1010" stroke-width="0.45"/>
<rect x="303.10" y="783.87" width="6.1" height="113.13" fill="#3349a3" stroke="#10183a" stroke-width="0.45"/>
<text transform="translate(302.30,902.60) rotate(-45)" text-anchor="end" font-size="6.4" fill="#333" stroke="#333" stroke-width="0.12" font-family="'Liberation Sans', sans-serif">AGC</text>
<rect x="315.05" y="868.41" width="6.1" height="28.59" fill="#e8202a" stroke="#3a1010" stroke-width="0.45"/>
<rect x="321.15" y="880.84" width="6.1" height="16.16" fill="#3349a3" stroke="#10183a" stroke-width="0.45"/>
<text transform="translate(320.35,902.60) rotate(-45)" text-anchor="end" font-size="6.4" fill="#333" stroke="#333" stroke-width="0.12" font-family="'Liberation Sans', sans-serif">STE</text>
<rect x="333.10" y="862.63" width="6.1" height="34.37" fill="#e8202a" stroke="#3a1010" stroke-width="0.45"/>
<rect x="339.20" y="853.80" width="6.1" height="43.20" fill="#3349a3" stroke="#10183a" stroke-width="0.45"/>
<text transform="translate(338.40,902.60) rotate(-45)" text-anchor="end" font-size="6.4" fill="#333" stroke="#333" stroke-width="0.12" font-family="'Liberation Sans', sans-serif">CAMK</text>
<rect x="351.15" y="887.83" width="6.1" height="9.17" fill="#e8202a" stroke="#3a1010" stroke-width="0.45"/>
<rect x="357.25" y="888.61" width="6.1" height="8.39" fill="#3349a3" stroke="#10183a" stroke-width="0.45"/>
<text transform="translate(356.45,902.60) rotate(-45)" text-anchor="end" font-size="6.4" fill="#333" stroke="#333" stroke-width="0.12" font-family="'Liberation Sans', sans-serif">CK1</text>
<rect x="369.20" y="756.83" width="6.1" height="140.17" fill="#e8202a" stroke="#3a1010" stroke-width="0.45"/>
<rect x="375.30" y="751.86" width="6.1" height="145.14" fill="#3349a3" stroke="#10183a" stroke-width="0.45"/>
<text transform="translate(374.50,902.60) rotate(-45)" text-anchor="end" font-size="6.4" fill="#333" stroke="#333" stroke-width="0.12" font-family="'Liberation Sans', sans-serif">CMGC</text>
<rect x="387.25" y="811.53" width="6.1" height="85.47" fill="#e8202a" stroke="#3a1010" stroke-width="0.45"/>
<rect x="393.35" y="844.47" width="6.1" height="52.53" fill="#3349a3" stroke="#10183a" stroke-width="0.45"/>
<text transform="translate(392.55,902.60) rotate(-45)" text-anchor="end" font-size="6.4" fill="#333" stroke="#333" stroke-width="0.12" font-family="'Liberation Sans', sans-serif">TK</text>
<rect x="405.30" y="883.95" width="6.1" height="13.05" fill="#e8202a" stroke="#3a1010" stroke-width="0.45"/>
<rect x="411.40" y="890.47" width="6.1" height="6.53" fill="#3349a3" stroke="#10183a" stroke-width="0.45"/>
<text transform="translate(410.60,902.60) rotate(-45)" text-anchor="end" font-size="6.4" fill="#333" stroke="#333" stroke-width="0.12" font-family="'Liberation Sans', sans-serif">TKL</text>
<rect x="423.35" y="879.28" width="6.1" height="17.72" fill="#e8202a" stroke="#3a1010" stroke-width="0.45"/>
<rect x="429.45" y="868.72" width="6.1" height="28.28" fill="#3349a3" stroke="#10183a" stroke-width="0.45"/>
<text transform="translate(428.65,902.60) rotate(-45)" text-anchor="end" font-size="6.4" fill="#333" stroke="#333" stroke-width="0.12" font-family="'Liberation Sans', sans-serif">Atypical</text>
<rect x="441.40" y="874.00" width="6.1" height="23.00" fill="#e8202a" stroke="#3a1010" stroke-width="0.45"/>
<rect x="447.50" y="863.12" width="6.1" height="33.88" fill="#3349a3" stroke="#10183a" stroke-width="0.45"/>
<text transform="translate(446.70,902.60) rotate(-45)" text-anchor="end" font-size="6.4" fill="#333" stroke="#333" stroke-width="0.12" font-family="'Liberation Sans', sans-serif">Other</text>
<text transform="translate(261.6,803.5) rotate(-90)" text-anchor="middle" font-size="7.4" fill="#222" stroke="#222" stroke-width="0.12" font-family="'Liberation Sans', sans-serif">% Substrates</text>
<rect x="328.8" y="717.4" width="5.5" height="4.6" fill="#e8202a" stroke="#3a1010" stroke-width="0.4"/>
<rect x="328.8" y="725.6" width="5.5" height="4.6" fill="#3349a3" stroke="#10183a" stroke-width="0.4"/>
<text x="341.9" y="722.2" font-size="6.9" fill="#222" stroke="#222" stroke-width="0.1" textLength="69.3" font-family="'Liberation Sans', sans-serif">% Platelet substrates</text>
<text x="341.9" y="730.4" font-size="6.9" fill="#222" stroke="#222" stroke-width="0.1" textLength="86.6" font-family="'Liberation Sans', sans-serif">% Non−platelet substrates</text>
<text x="317.3" y="868.6" font-size="10.5" text-anchor="middle" fill="#222" stroke="#222" stroke-width="0.3" font-family="'Liberation Sans', sans-serif">*</text>
<text x="390.5" y="813.0" font-size="12.8" text-anchor="middle" fill="#222" stroke="#222" stroke-width="0.3" font-family="'Liberation Sans', sans-serif">***</text>
<text x="408.2" y="884.4" font-size="10.5" text-anchor="middle" fill="#222" stroke="#222" stroke-width="0.3" font-family="'Liberation Sans', sans-serif">*</text>
</svg>
</body></html>
